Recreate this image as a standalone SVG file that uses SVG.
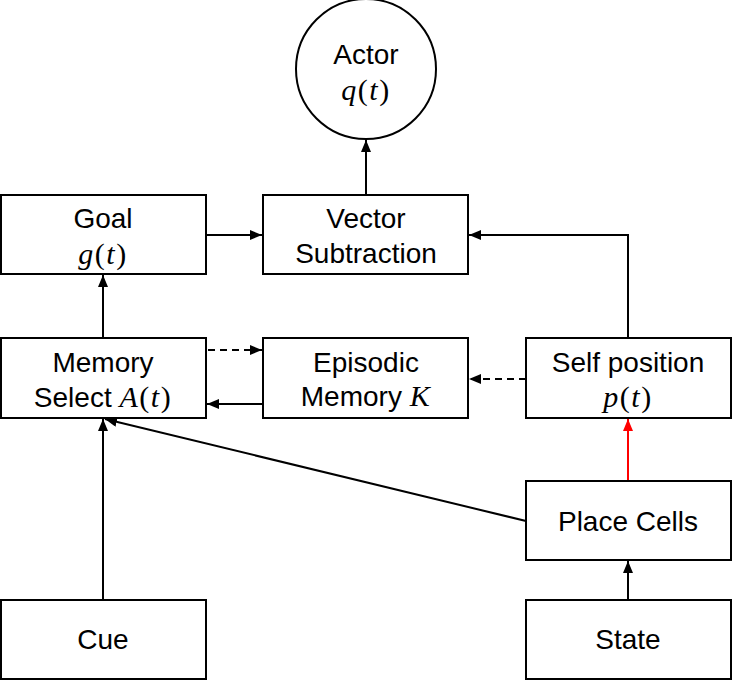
<svg xmlns="http://www.w3.org/2000/svg" width="732" height="681" viewBox="0 0 732 681">
<defs>
<style>
.box{fill:#fff;stroke:#000;stroke-width:2}
.t{font-family:"Liberation Sans",Arial,sans-serif;font-size:28px;text-anchor:middle;fill:#000}
.m{font-family:"Liberation Serif","Times New Roman",serif;font-size:30px;text-anchor:middle;fill:#000;letter-spacing:1.5px}
.i{font-style:italic}
.c{fill:none;stroke:#000;stroke-width:2}
.d{stroke-dasharray:7,5}
.r{stroke:#f00}
</style>
<marker id="a" viewBox="0 0 12 10" refX="12" refY="5" markerWidth="6" markerHeight="5" orient="auto" markerUnits="strokeWidth"><path d="M0,0L12,5L0,10z" fill="#000"/></marker>
<marker id="ar" viewBox="0 0 12 10" refX="12" refY="5" markerWidth="6" markerHeight="5" orient="auto" markerUnits="strokeWidth"><path d="M0,0L12,5L0,10z" fill="#f00"/></marker>
</defs>
<g id="connectors">
<path class="c" d="M366,195V140" marker-end="url(#a)"/>
<path class="c" d="M206,235H262" marker-end="url(#a)"/>
<path class="c" d="M628,338V235H469" marker-end="url(#a)"/>
<path class="c" d="M103,338V275" marker-end="url(#a)"/>
<path class="c d" d="M208,350H262" marker-end="url(#a)"/>
<path class="c" d="M263,404H207" marker-end="url(#a)"/>
<path class="c d" d="M526,379H469" marker-end="url(#a)"/>
<path class="c r" d="M628,481V419" marker-end="url(#ar)"/>
<path class="c" d="M526,521L105,419" marker-end="url(#a)"/>
<path class="c" d="M103,600V419" marker-end="url(#a)"/>
<path class="c" d="M628,600V561" marker-end="url(#a)"/>
</g>
<g id="actor">
<circle class="box" cx="366" cy="69" r="70"/>
<text class="t" x="366" y="64">Actor</text>
<text class="m" x="366" y="100"><tspan class="i">q</tspan>(<tspan class="i">t</tspan>)</text>
</g>
<g id="goal">
<rect class="box" x="1" y="195" width="205" height="79"/>
<text class="t" x="103" y="228">Goal</text>
<text class="m" x="103" y="264"><tspan class="i">g</tspan>(<tspan class="i">t</tspan>)</text>
</g>
<g id="vector">
<rect class="box" x="263" y="195" width="205" height="79"/>
<text class="t" x="366" y="228">Vector</text>
<text class="t" x="366" y="263">Subtraction</text>
</g>
<g id="memory-select">
<rect class="box" x="1" y="338" width="205" height="80"/>
<text class="t" x="103" y="372">Memory</text>
<text class="t" x="103" y="407">Select <tspan class="m i">A</tspan><tspan class="m">(</tspan><tspan class="m i">t</tspan><tspan class="m">)</tspan></text>
</g>
<g id="episodic">
<rect class="box" x="263" y="338" width="205" height="80"/>
<text class="t" x="366" y="372">Episodic</text>
<text class="t" x="366" y="406">Memory <tspan class="m i">K</tspan></text>
</g>
<g id="self-position">
<rect class="box" x="526" y="338" width="205" height="80"/>
<text class="t" x="628" y="372">Self position</text>
<text class="m" x="628" y="407"><tspan class="i">p</tspan>(<tspan class="i">t</tspan>)</text>
</g>
<g id="place-cells">
<rect class="box" x="526" y="481" width="205" height="79"/>
<text class="t" x="628" y="531">Place Cells</text>
</g>
<g id="cue">
<rect class="box" x="1" y="600" width="205" height="79"/>
<text class="t" x="103" y="649">Cue</text>
</g>
<g id="state">
<rect class="box" x="526" y="600" width="205" height="79"/>
<text class="t" x="628" y="649">State</text>
</g>
</svg>
